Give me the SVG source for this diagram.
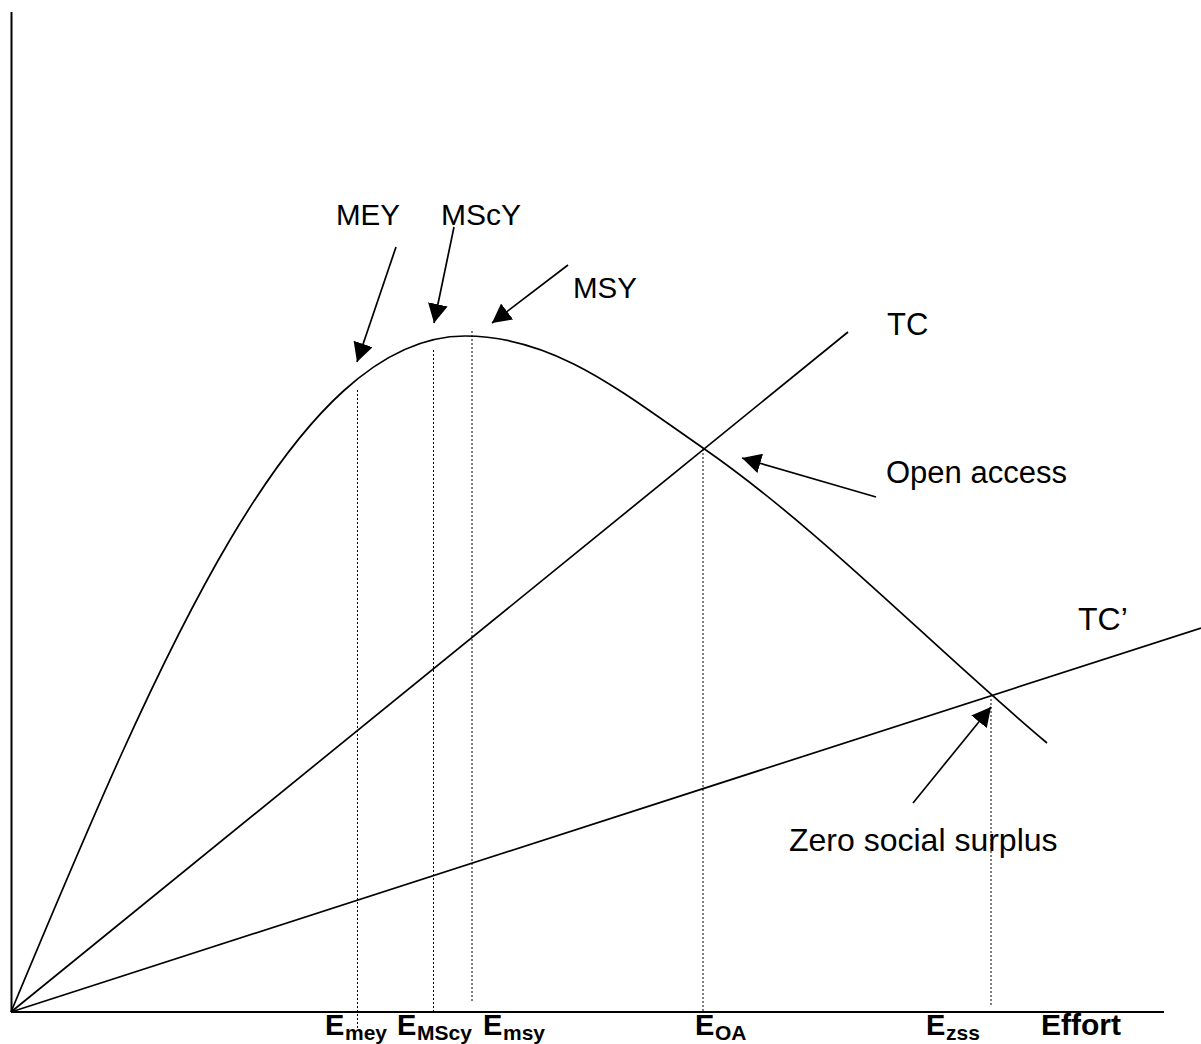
<svg xmlns="http://www.w3.org/2000/svg" width="1201" height="1044" viewBox="0 0 1201 1044">
  <style>
    .axis { stroke: #000; stroke-width: 2; fill: none; }
    .curve { stroke: #000; stroke-width: 1.7; fill: none; }
    .guide { stroke: #000; stroke-width: 1; stroke-dasharray: 2 2; fill: none; }
    .arrow { stroke: #000; stroke-width: 1.7; fill: none; marker-end: url(#head); }
    .label { font-family: "Liberation Sans", Arial, sans-serif; font-size: 30px; fill: #000; }
    .tick { font-family: "Liberation Sans", Arial, sans-serif; font-size: 29px; font-weight: bold; fill: #000; }
    .sub { font-size: 21px; }
  </style>
  <defs>
    <marker id="head" viewBox="0 0 19 20" refX="19" refY="10" markerWidth="19" markerHeight="20" markerUnits="userSpaceOnUse" orient="auto">
      <path d="M0,0 L19,10 L0,20 z" fill="#000"/>
    </marker>
  </defs>
  <rect width="1201" height="1044" fill="#fff"/>

  <!-- axes -->
  <g id="axes">
    <line class="axis" x1="11.5" y1="12" x2="11.5" y2="1012"/>
    <line class="axis" x1="11" y1="1012" x2="1164" y2="1012"/>
  </g>

  <!-- sustainable yield (total revenue) curve -->
  <g id="yield-curve">
    <path class="curve" d="M11,1012 C161,652 295,336 465,336 C555,336 623,392.8 703,448 C818,527.4 932,646.4 1047,743"/>
  </g>

  <!-- total cost lines -->
  <g id="tc">
    <line class="curve" x1="11" y1="1012" x2="848" y2="332"/>
    <text class="label" x="887" y="335" style="font-size:31px">TC</text>
  </g>
  <g id="tc-prime">
    <line class="curve" x1="11" y1="1012" x2="1201" y2="628"/>
    <text class="label" x="1078" y="630" style="font-size:32px">TC’</text>
  </g>

  <!-- effort levels -->
  <g id="guides">
    <line class="guide" x1="357.5" y1="390" x2="357.5" y2="1028"/>
    <line class="guide" x1="433.5" y1="350" x2="433.5" y2="1011"/>
    <line class="guide" x1="472" y1="331" x2="472" y2="1003"/>
    <line class="guide" x1="703" y1="449" x2="703" y2="1011"/>
    <line class="guide" x1="991" y1="699" x2="991" y2="1006"/>
  </g>

  <!-- annotation arrows -->
  <g id="connectors">
    <line class="arrow" x1="396" y1="247" x2="357" y2="362"/>
    <line class="arrow" x1="454" y1="227" x2="434" y2="323"/>
    <line class="arrow" x1="568" y1="265" x2="492" y2="323"/>
    <line class="arrow" x1="876" y1="497" x2="742" y2="458"/>
    <line class="arrow" x1="913" y1="803" x2="991" y2="707"/>
  </g>

  <g id="mey"><text class="label" x="336" y="225" style="font-size:29.5px">MEY</text></g>
  <g id="mscy"><text class="label" x="441" y="225">MScY</text></g>
  <g id="msy"><text class="label" x="573" y="298" style="font-size:29.5px">MSY</text></g>
  <g id="open-access"><text class="label" x="886" y="483" style="font-size:31px">Open access</text></g>
  <g id="zero-social-surplus"><text class="label" x="789" y="851" style="font-size:32px">Zero social surplus</text></g>

  <!-- effort axis labels -->
  <g id="e-mey"><text class="tick" x="325" y="1035">E<tspan class="sub" x="345" y="1040">mey</tspan></text></g>
  <g id="e-mscy"><text class="tick" x="397" y="1035">E<tspan class="sub" x="417" y="1040">MScy</tspan></text></g>
  <g id="e-msy"><text class="tick" x="483" y="1035">E<tspan class="sub" x="503" y="1040">msy</tspan></text></g>
  <g id="e-oa"><text class="tick" x="695" y="1035">E<tspan class="sub" x="715" y="1040">OA</tspan></text></g>
  <g id="e-zss"><text class="tick" x="926" y="1035">E<tspan class="sub" x="946" y="1040">zss</tspan></text></g>
  <g id="effort"><text class="tick" x="1041" y="1035" style="font-size:30px">Effort</text></g>
</svg>
